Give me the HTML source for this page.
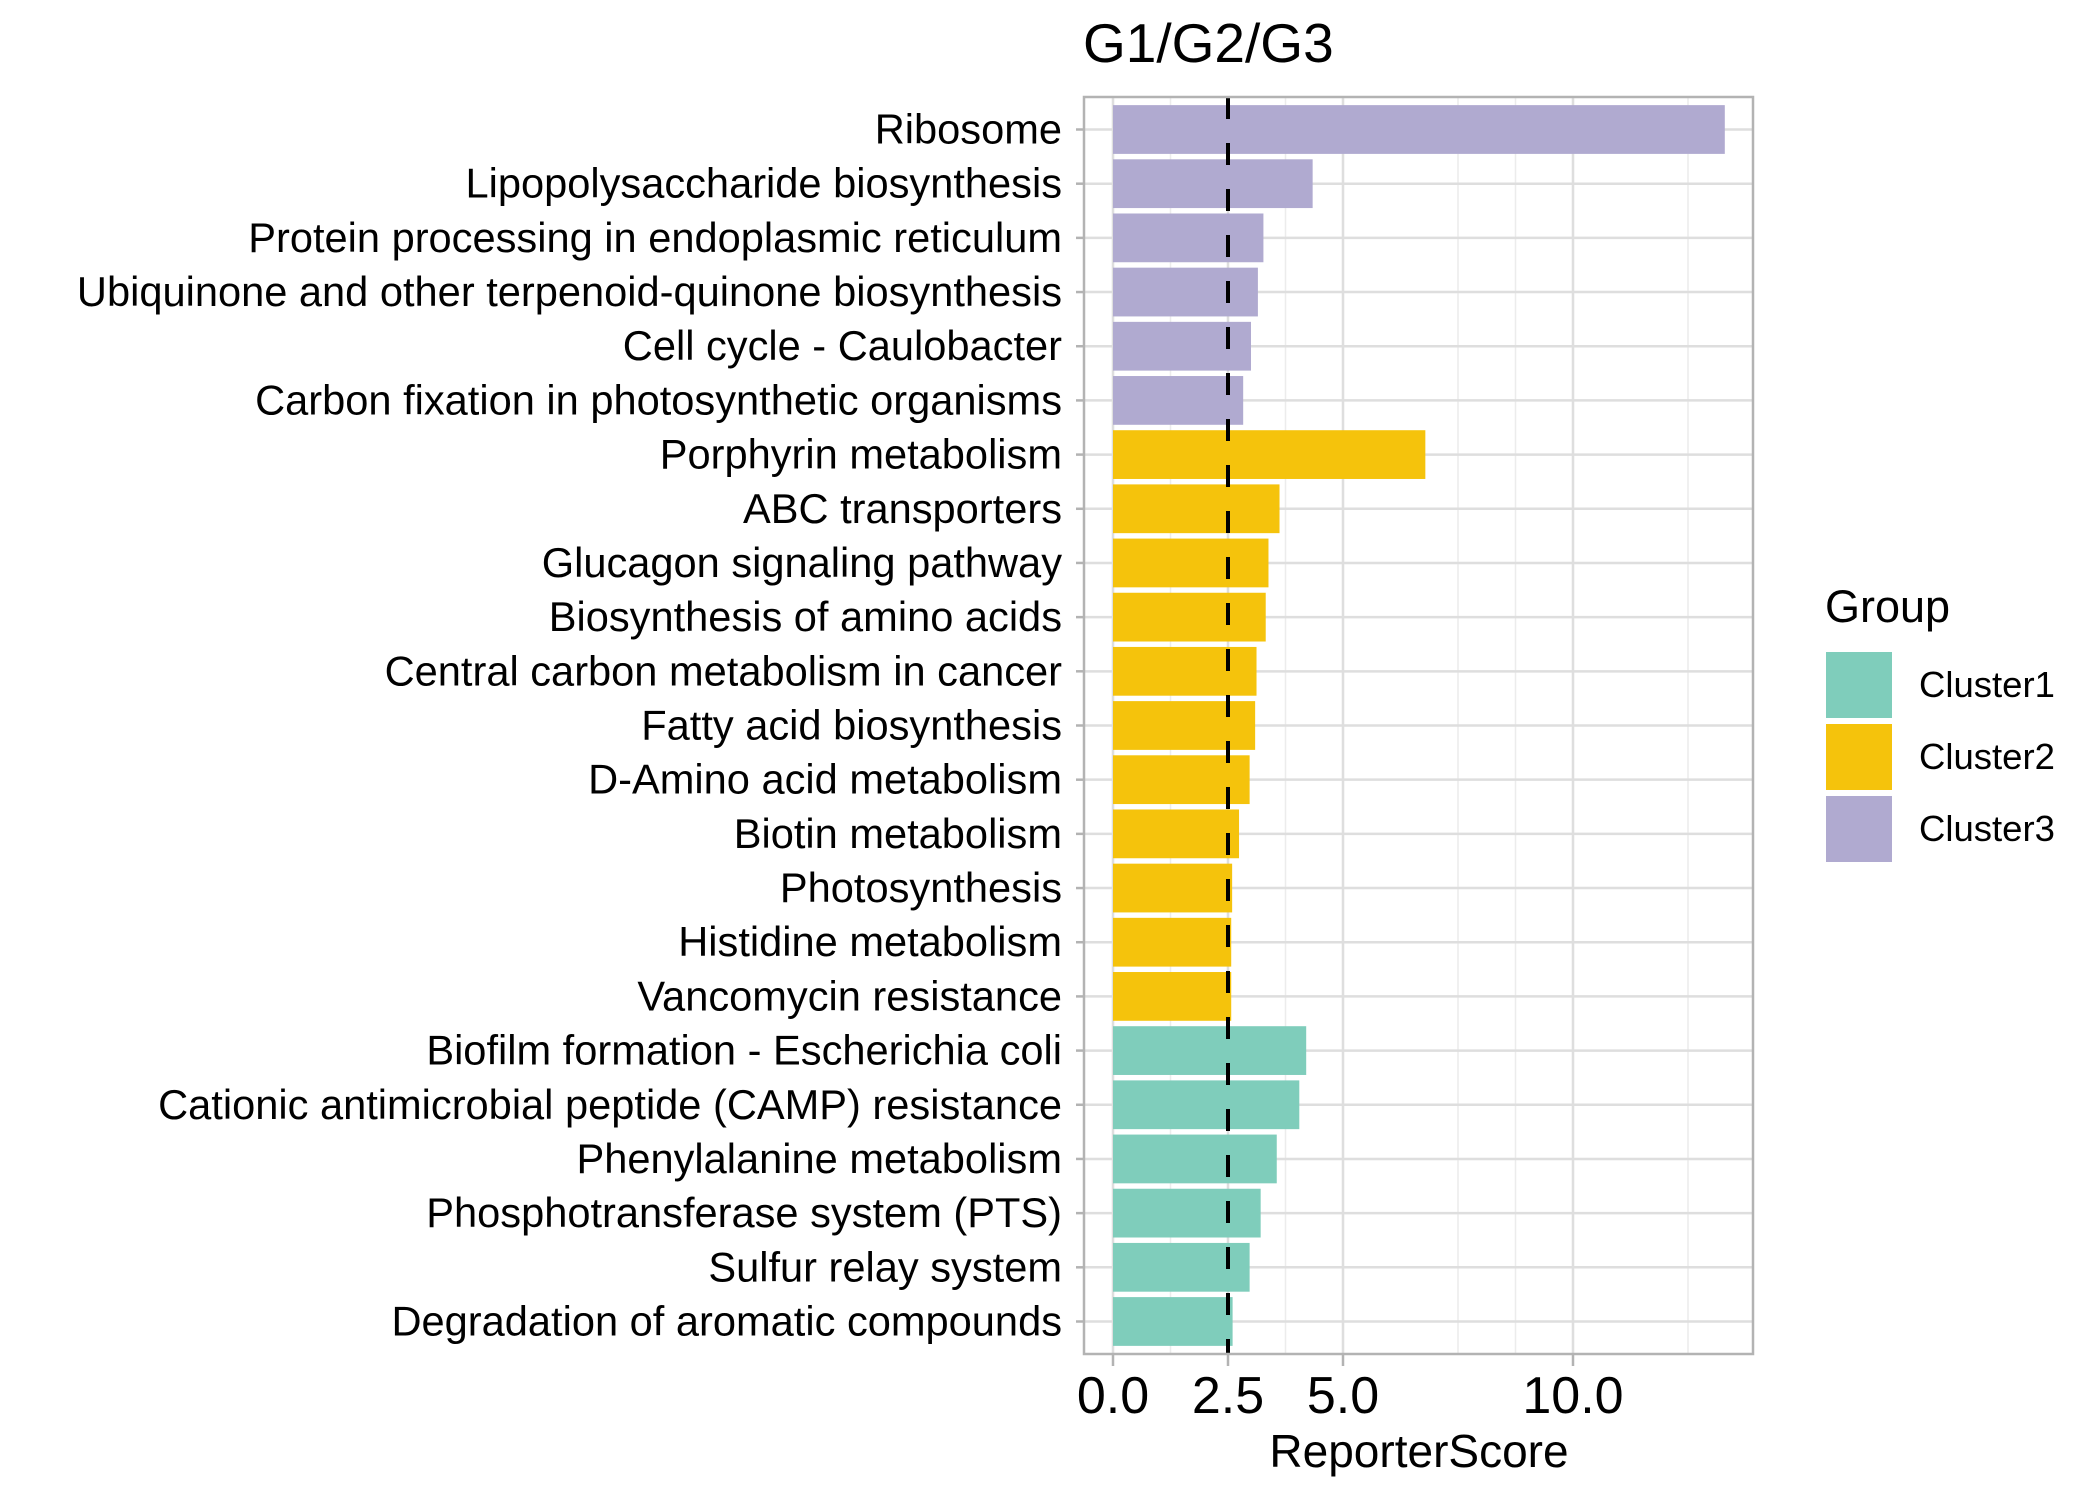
<!DOCTYPE html>
<html><head><meta charset="utf-8"><style>
html,body{margin:0;padding:0;background:#fff;}
svg{display:block;font-family:"Liberation Sans",Arial,sans-serif;}
</style></head><body>
<svg id="chart" width="2100" height="1500" viewBox="0 0 2100 1500" xmlns="http://www.w3.org/2000/svg">
<rect x="0" y="0" width="2100" height="1500" fill="#fff"/>
<text x="1083" y="62" font-size="55" fill="#000">G1/G2/G3</text>
<g id="grid"></g>
<g id="bars"></g>
<g id="axes"></g>
<text x="1419" y="1467" font-size="46" text-anchor="middle" fill="#000">ReporterScore</text>
<g>
<text x="1825" y="622" font-size="45" fill="#000">Group</text>
<rect x="1826" y="652" width="66" height="66" fill="#7fcdbb"/>
<text x="1919" y="697" font-size="36.5" fill="#000">Cluster1</text>
<rect x="1826" y="724" width="66" height="66" fill="#f5c30c"/>
<text x="1919" y="769" font-size="36.5" fill="#000">Cluster2</text>
<rect x="1826" y="796" width="66" height="66" fill="#b0aad0"/>
<text x="1919" y="841" font-size="36.5" fill="#000">Cluster3</text>
</g>
</svg>
<script>
const categories = ["Ribosome","Lipopolysaccharide biosynthesis","Protein processing in endoplasmic reticulum","Ubiquinone and other terpenoid-quinone biosynthesis","Cell cycle - Caulobacter","Carbon fixation in photosynthetic organisms","Porphyrin metabolism","ABC transporters","Glucagon signaling pathway","Biosynthesis of amino acids","Central carbon metabolism in cancer","Fatty acid biosynthesis","D-Amino acid metabolism","Biotin metabolism","Photosynthesis","Histidine metabolism","Vancomycin resistance","Biofilm formation - Escherichia coli","Cationic antimicrobial peptide (CAMP) resistance","Phenylalanine metabolism","Phosphotransferase system (PTS)","Sulfur relay system","Degradation of aromatic compounds"];
const scores = [13.3,4.34,3.27,3.15,3.0,2.83,6.79,3.62,3.38,3.32,3.12,3.09,2.97,2.74,2.59,2.57,2.57,4.2,4.05,3.56,3.21,2.97,2.6];
const groups = ["Cluster3","Cluster3","Cluster3","Cluster3","Cluster3","Cluster3","Cluster2","Cluster2","Cluster2","Cluster2","Cluster2","Cluster2","Cluster2","Cluster2","Cluster2","Cluster2","Cluster2","Cluster1","Cluster1","Cluster1","Cluster1","Cluster1","Cluster1"];
const xTicks = [0,2.5,5,10];
const xTickLabels = ["0.0","2.5","5.0","10.0"];
const xMinor = [1.25,3.75,7.5,8.75,12.5];
const threshold = 2.5;

const NS="http://www.w3.org/2000/svg";
const colors={Cluster1:"#7fcdbb",Cluster2:"#f5c30c",Cluster3:"#b0aad0"};
const P={l:1084,r:1753,t:97,b:1354};
const pxPerUnit=46;
const x=v=>1113+v*pxPerUnit;
const step=(P.b-P.t)/(categories.length+0.2);
const y=i=>P.t+(0.6+i)*step;
function mk(tag,attrs,parent){const e=document.createElementNS(NS,tag);for(const k in attrs)e.setAttribute(k,attrs[k]);parent.appendChild(e);return e;}
const grid=document.getElementById('grid'),bars=document.getElementById('bars'),axes=document.getElementById('axes');
xMinor.forEach(v=>{const l=mk('line',{x1:x(v),x2:x(v),y1:P.t,y2:P.b,stroke:'#ececec','stroke-width':1.5},grid);

});
xTicks.forEach(v=>{const l=mk('line',{x1:x(v),x2:x(v),y1:P.t,y2:P.b,stroke:'#dedede','stroke-width':2.5},grid);

});
categories.forEach((c,i)=>{const l=mk('line',{x1:P.l,x2:P.r,y1:y(i),y2:y(i),stroke:'#dedede','stroke-width':2.5},grid);

});
const bw=step*0.9;
categories.forEach((c,i)=>{
const r=mk('rect',{x:x(0),y:y(i)-bw/2,width:x(scores[i])-x(0),height:bw,fill:colors[groups[i]]},bars);


const t=mk('text',{x:1062,y:y(i)+14,'font-size':41.6,'text-anchor':'end',fill:'#000'},axes);
t.textContent=c;


const tk=mk('line',{x1:1076,x2:P.l,y1:y(i),y2:y(i),stroke:'#b3b3b3','stroke-width':2.5},axes);


});
const th=mk('line',{x1:x(threshold),x2:x(threshold),y1:P.t,y2:P.b,stroke:'#000','stroke-width':4,'stroke-dasharray':'22 24'},axes);


const fr=mk('rect',{x:P.l,y:P.t,width:P.r-P.l,height:P.b-P.t,fill:'none',stroke:'#b3b3b3','stroke-width':2.5},axes);


xTicks.forEach((v,i)=>{
const tk=mk('line',{x1:x(v),x2:x(v),y1:P.b,y2:P.b+12,stroke:'#b3b3b3','stroke-width':2.5},axes);


const t=mk('text',{x:x(v),y:1413,'font-size':52,'text-anchor':'middle',fill:'#000'},axes);
t.textContent=xTickLabels[i];


});
</script>
</body></html>
